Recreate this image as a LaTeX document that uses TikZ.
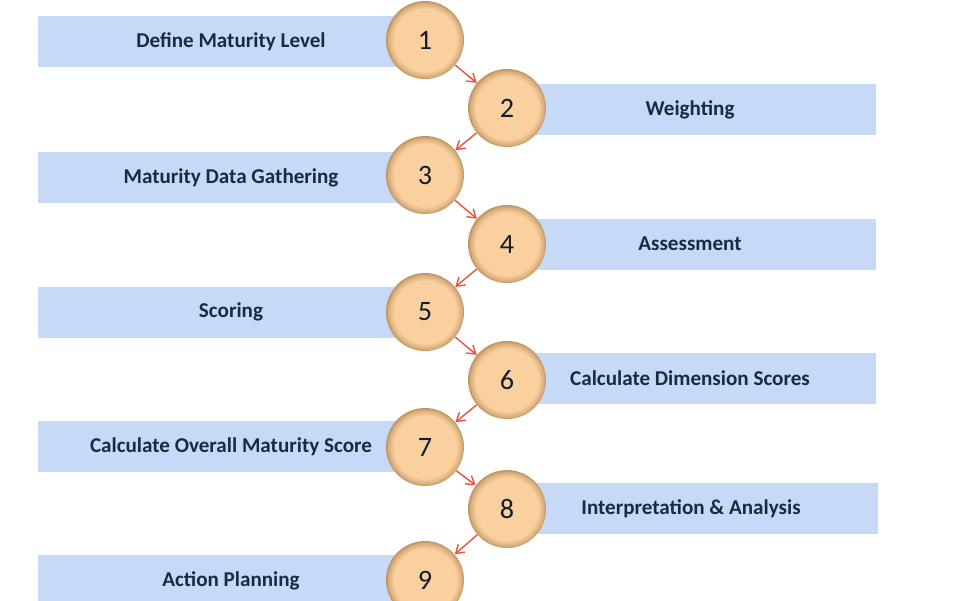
\documentclass[tikz,border=0pt]{standalone}
\usepackage{fontspec}
\setmainfont{Carlito}
\usetikzlibrary{arrows.meta}
\definecolor{Bar}{HTML}{C6DAF8}
\definecolor{Peach}{HTML}{F9D09E}
\definecolor{Rim}{HTML}{B08452}
\definecolor{Navy}{HTML}{1B2A3E}
\definecolor{Coral}{HTML}{E8553D}
\pgfdeclareradialshading{ballrim}{\pgfpoint{0bp}{0bp}}{color(0bp)=(Peach); color(20bp)=(Peach); color(23.5bp)=(Rim!45!Peach); color(25bp)=(Rim!80!Peach); color(50bp)=(Rim!80!Peach)}
\tikzset{
 lbar/.style={fill=Bar,minimum width=9.625cm,minimum height=1.275cm,inner sep=0pt,
   font=\bfseries\fontsize{15}{17}\selectfont,text=Navy},
 rbar/.style={lbar,minimum width=9.275cm},
 ball/.style={circle,minimum size=1.95cm,inner sep=0pt,shading=ballrim,
   font=\fontsize{20}{22}\selectfont,text=Navy!70!black},
 arr/.style={-{Straight Barb[length=2mm,width=2.6mm]},draw=Coral,line width=1pt}
}
\begin{document}
\begin{tikzpicture}[x=0.025cm,y=-0.025cm]
\useasboundingbox (0,0) rectangle (960,600);
% bars
\node[lbar] (s1) at (231,41.5) {Define Maturity Level};
\node[rbar] (s2) at (690,109.5) {Weighting};
\node[lbar] (s3) at (231,177.5) {Maturity Data Gathering};
\node[rbar] (s4) at (690,244) {Assessment};
\node[lbar] (s5) at (231,312) {Scoring};
\node[rbar] (s6) at (690,378.5) {Calculate Dimension Scores};
\node[lbar] (s7) at (231,446.5) {Calculate Overall Maturity Score};
\node[rbar,minimum width=9.325cm] (s8) at (691,508.5) {Interpretation \& Analysis};
\node[lbar] (s9) at (231,580.5) {Action Planning};
% steps
\node[ball] (c1) at (425,40) {1};
\node[ball] (c2) at (507,108) {2};
\node[ball] (c3) at (425,175) {3};
\node[ball] (c4) at (507,244) {4};
\node[ball] (c5) at (425,312) {5};
\node[ball] (c6) at (507,380) {6};
\node[ball] (c7) at (425,447) {7};
\node[ball] (c8) at (507,509) {8};
\node[ball] (c9) at (425,580) {9};
\draw[arr] (c1)--(c2);\draw[arr] (c2)--(c3);\draw[arr] (c3)--(c4);
\draw[arr] (c4)--(c5);\draw[arr] (c5)--(c6);\draw[arr] (c6)--(c7);
\draw[arr] (c7)--(c8);\draw[arr] (c8)--(c9);
\end{tikzpicture}
\end{document}
